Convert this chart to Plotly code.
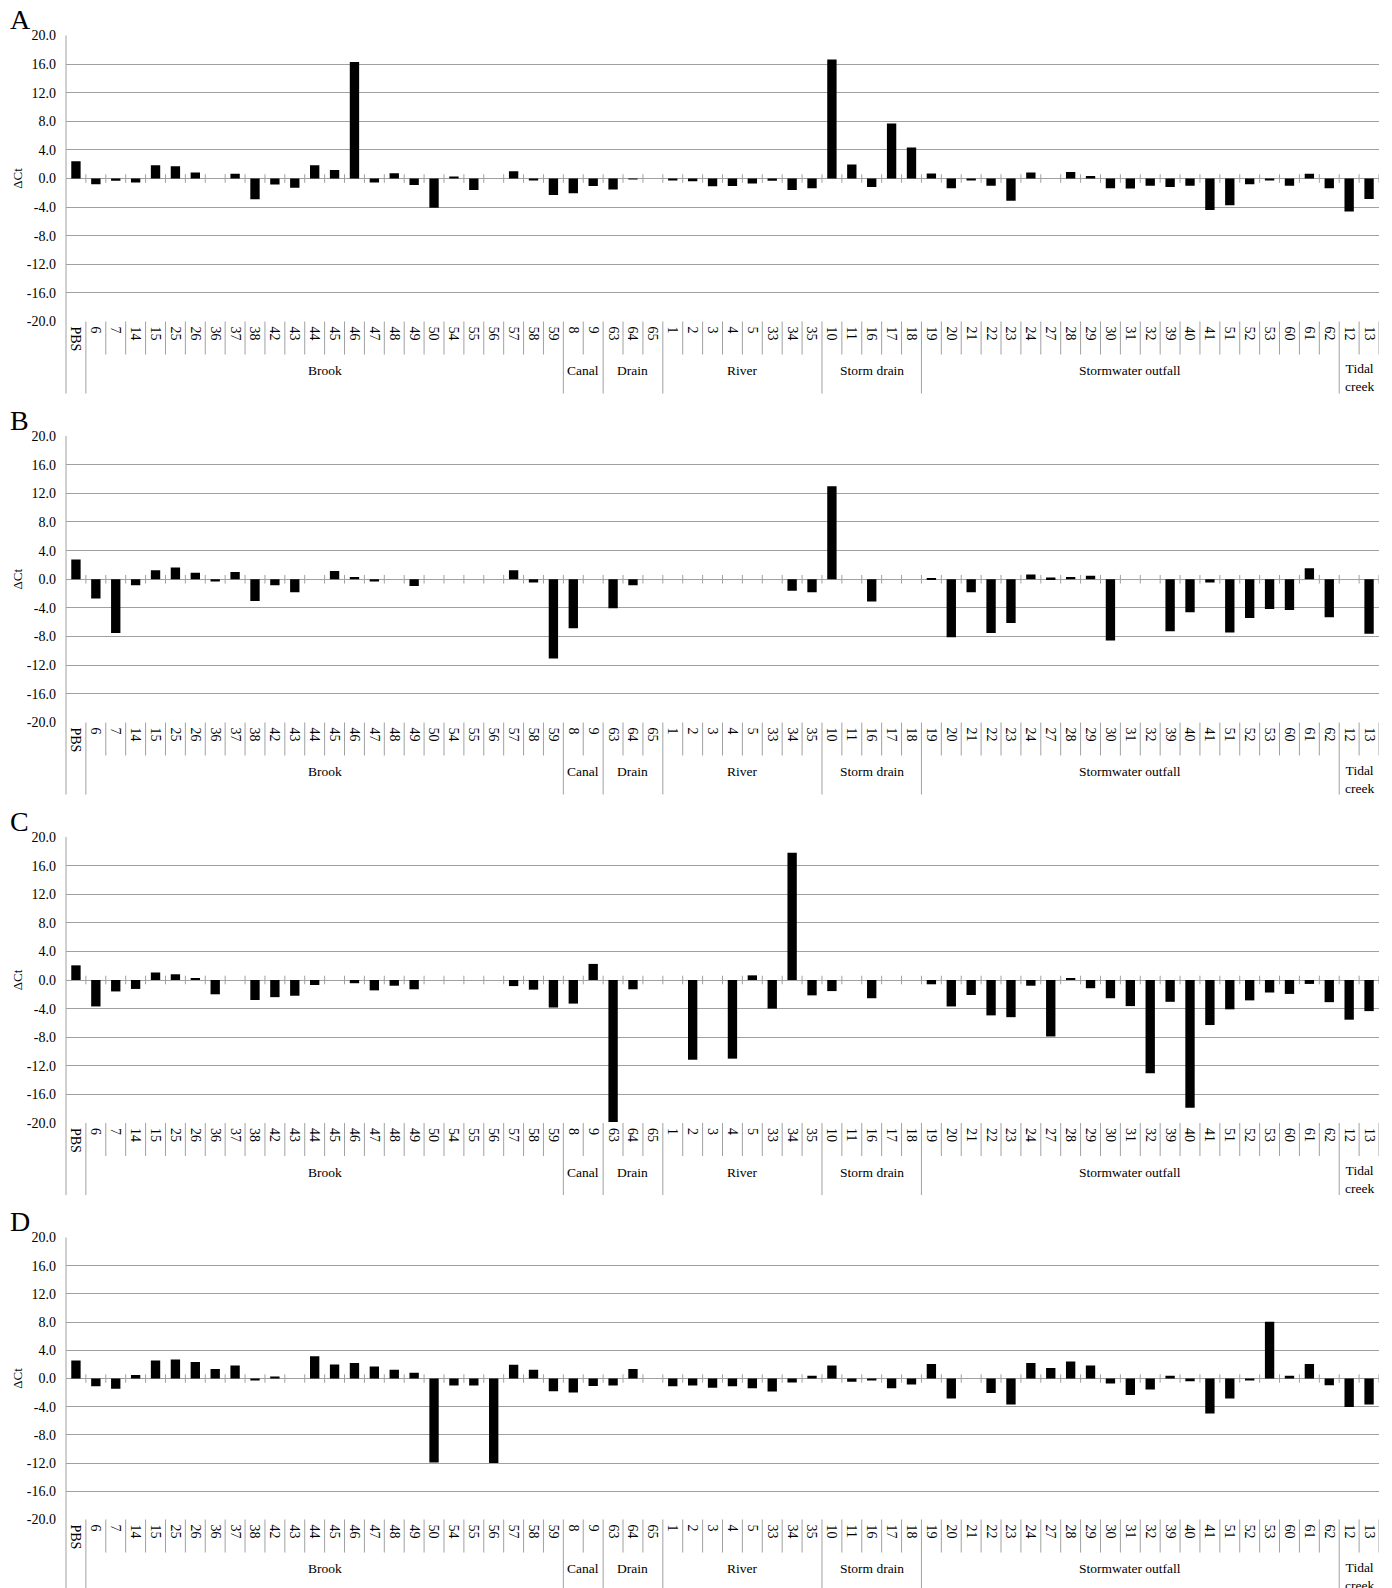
import plotly.graph_objects as go

# ---------------- data ----------------
categories = ["PBS",
              "6", "7", "14", "15", "25", "26", "36", "37", "38", "42", "43", "44",
              "45", "46", "47", "48", "49", "50", "54", "55", "56", "57", "58", "59",
              "8", "9",
              "63", "64", "65",
              "1", "2", "3", "4", "5", "33", "34", "35",
              "10", "11", "16", "17", "18",
              "19", "20", "21", "22", "23", "24", "27", "28", "29", "30", "31", "32",
              "39", "40", "41", "51", "52", "53", "60", "61", "62",
              "12", "13"]

group_names = ["", "Brook", "Canal", "Drain", "River", "Storm drain",
               "Stormwater outfall", "Tidal<br>creek"]
group_sizes = [1, 24, 2, 3, 8, 5, 21, 2]

panel_labels = ["A", "B", "C", "D"]

values_A = [2.4,
            -0.8, -0.3, -0.55, 1.85, 1.7, 0.85, 0, 0.65, -2.9, -0.85, -1.3, 1.85,
            1.2, 16.3, -0.55, 0.75, -0.9, -4.1, 0.2, -1.6, 0, 1.0, -0.2, -2.3,
            -2.05, -1.05,
            -1.55, -0.1, 0,
            -0.15, -0.4, -1.1, -1.05, -0.7, -0.3, -1.6, -1.35,
            16.65, 1.95, -1.2, 7.7, 4.35,
            0.7, -1.35, -0.2, -1.0, -3.1, 0.85, 0, 0.9, 0.35, -1.35, -1.4, -1.0,
            -1.2, -1.0, -4.4, -3.75, -0.8, -0.25, -1.0, 0.65, -1.35,
            -4.6, -2.85]

values_B = [2.75,
            -2.7, -7.5, -0.85, 1.25, 1.65, 0.9, -0.3, 1.0, -3.05, -0.85, -1.8, 0,
            1.15, 0.3, -0.3, 0, -0.95, 0, 0, 0, 0, 1.25, -0.45, -11.05,
            -6.85, 0,
            -4.05, -0.85, 0,
            0, 0, 0, 0, 0, 0, -1.6, -1.8,
            13.0, 0, -3.1, 0, 0,
            0.1, -8.1, -1.8, -7.5, -6.1, 0.65, 0.25, 0.3, 0.5, -8.55, 0, 0,
            -7.25, -4.6, -0.45, -7.45, -5.4, -4.15, -4.3, 1.55, -5.3,
            0, -7.6]

values_C = [2.05,
            -3.7, -1.6, -1.25, 1.05, 0.8, 0.2, -2.0, 0, -2.8, -2.4, -2.2, -0.7,
            0, -0.45, -1.45, -0.8, -1.3, 0, 0, 0, 0, -0.85, -1.35, -3.85,
            -3.3, 2.25,
            -19.85, -1.3, 0,
            0, -11.15, 0, -11.0, 0.65, -4.0, 17.8, -2.15,
            -1.55, 0, -2.55, 0, 0,
            -0.6, -3.7, -2.1, -4.95, -5.2, -0.8, -7.9, 0.2, -1.15, -2.55, -3.65, -13.05,
            -3.05, -17.85, -6.3, -4.1, -2.85, -1.75, -1.95, -0.55, -3.1,
            -5.55, -4.35]

values_D = [2.55,
            -1.1, -1.45, 0.5, 2.55, 2.7, 2.35, 1.35, 1.85, -0.2, 0.3, 0, 3.15,
            2.0, 2.2, 1.7, 1.25, 0.8, -11.9, -1.0, -1.0, -12.0, 1.95, 1.25, -1.8,
            -2.0, -1.05,
            -1.0, 1.35, 0,
            -1.1, -1.0, -1.3, -1.1, -1.4, -1.85, -0.55, 0.4,
            1.85, -0.45, -0.2, -1.4, -0.85,
            2.05, -2.85, 0, -2.05, -3.7, 2.2, 1.5, 2.4, 1.85, -0.7, -2.35, -1.55,
            0.4, -0.4, -4.95, -2.85, -0.2, 8.05, 0.4, 2.05, -0.95,
            -4.05, -3.7]

panel_values = [values_A, values_B, values_C, values_D]

y_ticks = [-20, -16, -12, -8, -4, 0, 4, 8, 12, 16, 20]
y_tick_text = ["%.1f" % v for v in y_ticks]

# ---------------- layout constants ----------------
OFF = 8                      # page body margin added by the browser
W, H = 1392 - OFF, 1588 - OFF
X0, X1 = 66 - OFF, 1379 - OFF
panel_px = [(35.5 - OFF, 321.5 - OFF), (436 - OFF, 722.5 - OFF),
            (837 - OFF, 1123 - OFF), (1237.5 - OFF, 1519.5 - OFF)]
FONT = "Liberation Serif"
GRID = "#a0a0a0"
SEP_SHORT = 33    # px below plot for category separators
SEP_LONG = 72     # px below plot for group separators
GROUP_Y = 49      # px below plot for group label centre

fig = go.Figure()
shapes = []
annotations = []

n = len(categories)
boundaries = set()
acc = 0
for s in group_sizes:
    boundaries.add(acc)
    acc += s

for i, (vals, lab, (top, bot)) in enumerate(zip(panel_values, panel_labels, panel_px)):
    k = "" if i == 0 else str(i + 1)
    xa, ya = "x" + k, "y" + k
    ph = bot - top

    fig.add_trace(go.Bar(x=categories, y=vals, xaxis=xa, yaxis=ya,
                         marker=dict(color="black", line=dict(width=0)),
                         width=0.47, showlegend=False))

    fig.layout["xaxis" + k] = dict(
        domain=[X0 / W, X1 / W], anchor=ya, type="category", automargin=False,
        categoryorder="array", categoryarray=categories,
        range=[-0.5, n - 0.5], tickangle=90, ticks="",
        tickfont=dict(family=FONT, size=14, color="black"),
        showgrid=False, showline=False, zeroline=False,
        ticklabelstandoff=4)
    fig.layout["yaxis" + k] = dict(
        domain=[1 - bot / H, 1 - top / H], anchor=xa, automargin=False,
        range=[-20, 20], tickmode="array", tickvals=y_ticks, ticktext=y_tick_text,
        tickfont=dict(family=FONT, size=14, color="black"),
        showgrid=True, gridcolor=GRID, gridwidth=1,
        zeroline=False, showline=False, ticks="", ticklabelstandoff=9,
        title=dict(text="ΔCt", font=dict(family=FONT, size=13, color="black"),
                   standoff=1))

    dom = ya + " domain"
    # left axis line extended down through label area
    shapes.append(dict(type="line", xref=xa + " domain", yref=dom,
                       x0=0, x1=0, y0=1, y1=-SEP_LONG / ph,
                       line=dict(color=GRID, width=1)))
    # category / group separators and zero-line ticks
    for b in range(1, n + 1):
        depth = SEP_LONG if (b in boundaries and b < n) else SEP_SHORT
        shapes.append(dict(type="line", xref=xa, yref=dom,
                           x0=b - 0.5, x1=b - 0.5, y0=0, y1=-depth / ph,
                           line=dict(color=GRID, width=1)))
        shapes.append(dict(type="line", xref=xa, yref=ya,
                           x0=b - 0.5, x1=b - 0.5, y0=-0.6, y1=0.6,
                           line=dict(color=GRID, width=1)))
    # group labels
    acc = 0
    for g, s in zip(group_names, group_sizes):
        if g:
            two_line = "<br>" in g
            annotations.append(dict(xref=xa, yref=dom, x=acc + (s - 1) / 2,
                                    y=-(GROUP_Y - (11 if two_line else 0)) / ph,
                                    text=g, showarrow=False,
                                    yanchor="top" if two_line else "middle",
                                    font=dict(family=FONT, size=13.5, color="black")))
        acc += s
    # panel letter
    annotations.append(dict(xref="paper", yref="paper", x=0,
                            y=1 - (top - 16) / H,
                            text=lab, showarrow=False, xanchor="left", yanchor="middle",
                            font=dict(family=FONT, size=28, color="black")))

fig.update_layout(width=W, height=H, margin=dict(l=0, r=0, t=0, b=0),
                  paper_bgcolor="white", plot_bgcolor="white",
                  shapes=shapes, annotations=annotations, bargap=0.5,
                  font=dict(family=FONT, color="black"))

fig.write_html("out.html")
